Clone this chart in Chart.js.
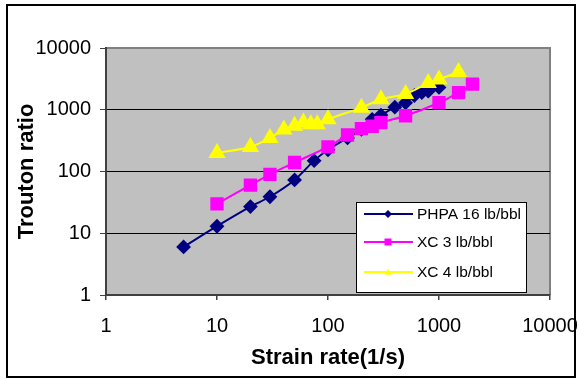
<!DOCTYPE html>
<html>
<head>
<meta charset="utf-8">
<title>Trouton ratio</title>
<script src="https://cdn.jsdelivr.net/npm/chart.js@4"></script>
<style>
  html, body { margin: 0; padding: 0; background: #ffffff; }
  #wrap { width: 579px; height: 379px; }
</style>
</head>
<body>
<div id="wrap"><canvas id="chart" width="579" height="379"></canvas></div>
<script>
// Data
const phpaRate = [5, 10, 20, 30, 50, 75, 100, 150, 200, 250, 300, 400, 500, 600, 700, 800, 1000];
const phpaRatio = [6, 13, 27, 39, 73, 150, 225, 350, 480, 700, 820, 1100, 1300, 1700, 1900, 2000, 2300];

const xc3Rate = [10, 20, 30, 50, 100, 150, 200, 250, 300, 500, 1000, 1500, 2000];
const xc3Ratio = [30, 60, 90, 140, 250, 390, 495, 540, 620, 800, 1300, 1900, 2600];

const xc4Rate = [10, 20, 30, 40, 50, 60, 70, 80, 100, 200, 300, 500, 800, 1000, 1500];
const xc4Ratio = [200, 250, 350, 480, 550, 620, 580, 580, 700, 1080, 1480, 1800, 2700, 3100, 4100];

const seriesNames = ['PHPA 16 lb/bbl', 'XC 3 lb/bbl', 'XC 4 lb/bbl'];
const decadeTicks = [1, 10, 100, 1000, 10000];

function toPoints(xs, ys) {
    return xs.map((x, i) => ({ x: x, y: ys[i] }));
}

const FONT = '"Liberation Sans", Arial, sans-serif';

// Grey plot area, frame round the whole picture
const backgroundPlugin = {
    id: 'bg',
    beforeDraw(chart) {
        const ctx = chart.ctx;
        const a = chart.chartArea;
        ctx.save();
        ctx.fillStyle = '#ffffff';
        ctx.fillRect(0, 0, chart.width, chart.height);
        ctx.fillStyle = '#c0c0c0';
        ctx.fillRect(a.left, a.top, a.right - a.left, a.bottom - a.top);
        ctx.strokeStyle = '#808080';
        ctx.lineWidth = 2;
        ctx.beginPath();
        ctx.moveTo(a.left, a.top);
        ctx.lineTo(a.right, a.top);
        ctx.lineTo(a.right, a.bottom);
        ctx.stroke();
        ctx.restore();
    },
    afterDraw(chart) {
        const ctx = chart.ctx;
        ctx.save();
        ctx.strokeStyle = '#000000';
        ctx.lineWidth = 2;
        ctx.strokeRect(7, 5, 568, 372);
        ctx.restore();
    }
};

// Legend box inside the plot, lower right
function drawMarker(ctx, style, x, y, r) {
    ctx.beginPath();
    if (style === 'rectRot') {
        ctx.moveTo(x, y - r);
        ctx.lineTo(x + r, y);
        ctx.lineTo(x, y + r);
        ctx.lineTo(x - r, y);
    } else if (style === 'rect') {
        ctx.rect(x - r, y - r, 2 * r, 2 * r);
    } else {
        ctx.moveTo(x, y - r);
        ctx.lineTo(x + r, y + r * 0.8);
        ctx.lineTo(x - r, y + r * 0.8);
    }
    ctx.closePath();
    ctx.fill();
}

const legendPlugin = {
    id: 'boxLegend',
    afterDraw(chart) {
        const ctx = chart.ctx;
        const box = { left: 356, top: 202, width: 170, height: 90 };
        ctx.save();
        ctx.fillStyle = '#ffffff';
        ctx.fillRect(box.left, box.top, box.width, box.height);
        ctx.strokeStyle = '#000000';
        ctx.lineWidth = 1;
        ctx.strokeRect(box.left + 0.5, box.top + 0.5, box.width, box.height);
        const rows = [214, 242, 272];
        chart.data.datasets.forEach((ds, i) => {
            const y = rows[i];
            ctx.strokeStyle = ds.borderColor;
            ctx.lineWidth = 2;
            ctx.beginPath();
            ctx.moveTo(364, y);
            ctx.lineTo(413, y);
            ctx.stroke();
            ctx.fillStyle = ds.borderColor;
            drawMarker(ctx, ds.pointStyle, 388, y, ds.pointStyle === 'rectRot' ? 4 : 3.5);
            ctx.fillStyle = '#000000';
            ctx.font = '15.5px ' + FONT;
            ctx.textBaseline = 'middle';
            ctx.textAlign = 'left';
            ctx.fillText(ds.label, 417, y + 1);
        });
        ctx.restore();
    }
};

const ctx = document.getElementById('chart').getContext('2d');
new Chart(ctx, {
    type: 'line',
    data: {
        datasets: [{
            label: seriesNames[0],
            data: toPoints(phpaRate, phpaRatio),
            borderColor: '#000080',
            backgroundColor: '#000080',
            pointStyle: 'rectRot',
            pointRadius: 6,
            borderWidth: 2,
            tension: 0.3,
            order: 3
        }, {
            label: seriesNames[1],
            data: toPoints(xc3Rate, xc3Ratio),
            borderColor: '#ff00ff',
            backgroundColor: '#ff00ff',
            pointStyle: 'rect',
            pointRadius: 8,
            borderWidth: 2,
            tension: 0.3,
            order: 2
        }, {
            label: seriesNames[2],
            data: toPoints(xc4Rate, xc4Ratio),
            borderColor: '#ffff00',
            backgroundColor: '#ffff00',
            pointStyle: 'triangle',
            pointRadius: 8,
            borderWidth: 2,
            tension: 0.3,
            order: 1
        }]
    },
    options: {
        responsive: false,
        animation: false,
        events: [],
        layout: { padding: { left: 8, right: 29, top: 48, bottom: 8 } },
        plugins: {
            legend: { display: false },
            tooltip: { enabled: false }
        },
        elements: {
            point: { borderWidth: 0 }
        },
        scales: {
            x: {
                type: 'logarithmic',
                min: 1,
                max: 10000,
                afterBuildTicks: (scale) => { scale.ticks = decadeTicks.map(v => ({ value: v })); },
                afterFit: (scale) => { scale.height = 76; scale.paddingLeft = 0; scale.paddingRight = 0; },
                ticks: {
                    autoSkip: false,
                    maxRotation: 0,
                    padding: 14,
                    color: '#000000',
                    font: { family: FONT, size: 20 },
                    callback: (v) => String(v)
                },
                grid: {
                    drawOnChartArea: false,
                    drawTicks: true,
                    tickLength: 5,
                    tickColor: '#404040',
                    lineWidth: 1.5
                },
                border: { display: true, color: '#404040', width: 2 },
                title: {
                    display: true,
                    text: 'Strain rate(1/s)',
                    color: '#000000',
                    font: { family: FONT, size: 22, weight: 'bold' },
                    padding: { top: 3, bottom: 0 }
                }
            },
            y: {
                type: 'logarithmic',
                min: 1,
                max: 10000,
                afterBuildTicks: (scale) => { scale.ticks = decadeTicks.map(v => ({ value: v })); },
                afterFit: (scale) => { scale.width = 98; scale.paddingTop = 0; scale.paddingBottom = 0; },
                ticks: {
                    autoSkip: false,
                    padding: 9,
                    color: '#000000',
                    font: { family: FONT, size: 20 },
                    callback: (v) => String(v)
                },
                grid: {
                    color: (c) => (c.tick && c.tick.value === 10000 ? 'rgba(0,0,0,0)' : '#000000'),
                    lineWidth: 1,
                    drawTicks: true,
                    tickLength: 6,
                    tickColor: '#404040'
                },
                border: { display: true, color: '#404040', width: 2 },
                title: {
                    display: true,
                    text: 'Trouton ratio',
                    color: '#000000',
                    font: { family: FONT, size: 22, weight: 'bold' },
                    padding: { top: 6, bottom: 0 }
                }
            }
        }
    },
    plugins: [backgroundPlugin, legendPlugin]
});
</script>
</body>
</html>
